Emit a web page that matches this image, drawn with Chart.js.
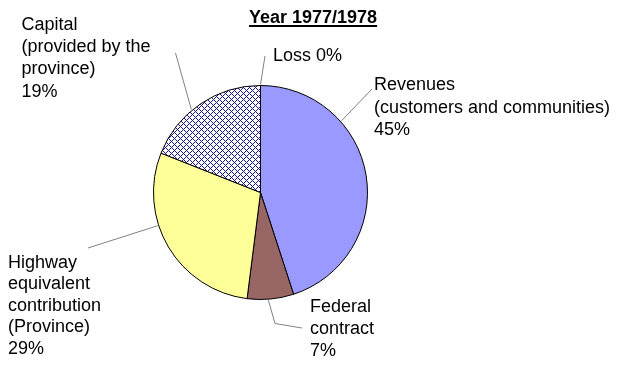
<!DOCTYPE html>
<html lang="en">
<head>
  <meta charset="UTF-8">
  <title>Year 1977/1978</title>
  <style>
    html, body { margin: 0; padding: 0; background: #fff; }
    canvas { display: block; }
  </style>
</head>
<body>
  <canvas id="pieChart" width="625" height="371"></canvas>

  <script src="https://cdn.jsdelivr.net/npm/chart.js"></script>
  <script>
    // data, clockwise from 12 o'clock
    const title = 'Year 1977/1978';
    const categories = ['Revenues', 'Federal contract', 'Highway equivalent contribution', 'Capital', 'Loss'];
    const shares = [45, 7, 29, 19, 0];

    // label text lines (the last line gets the percentage, unless inline)
    const labelText = [
      ['Revenues', '(customers and communities)'],
      ['Federal', 'contract'],
      ['Highway', 'equivalent', 'contribution', '(Province)'],
      ['Capital', '(provided by the', 'province)'],
      ['Loss']
    ];

    // where labels sit and where their leader lines go (angle = degrees clockwise from top)
    const labelLayout = [
      { x: 374, y: 90, lh: 22.5, inline: false, angle: 48.5, pts: [[372, 89]] },
      { x: 310, y: 312, lh: 22, inline: false, angle: 175.8, pts: [[275, 323.5], [302, 328]] },
      { x: 8, y: 267.5, lh: 21.5, inline: false, angle: 252.1, pts: [[88, 248]] },
      { x: 21.5, y: 29.5, lh: 22.4, inline: false, angle: 320.2, pts: [[175.5, 53]] },
      { x: 273, y: 61, lh: 22, inline: true, angle: 0, pts: [[265, 56]] }
    ];

    const colors = ['#9999ff', '#996666', '#ffff99', null, '#ffffff'];

    // cross hatch for the capital slice
    function makeHatch() {
      const tile = document.createElement('canvas');
      tile.width = 6; tile.height = 6;
      const t = tile.getContext('2d');
      t.fillStyle = '#ffffff';
      t.fillRect(0, 0, 6, 6);
      t.fillStyle = '#14148c';
      for (let x = 0; x < 6; x++) {
        for (let y = 0; y < 6; y++) {
          if ((x + y) % 6 === 0 || (x - y + 6) % 6 === 0) t.fillRect(x, y, 1, 1);
        }
      }
      return t.createPattern(tile, 'repeat');
    }
    colors[3] = makeHatch();

    const labelPlugin = {
      id: 'pieLabels',
      afterDraw(chart) {
        const ctx = chart.ctx;
        const meta = chart.getDatasetMeta(0);
        const arc = meta.data[0];
        const cx = arc.x, cy = arc.y, r = arc.outerRadius;

        ctx.save();
        // title, bold and underlined
        ctx.font = 'bold 18px "Liberation Sans", Arial, sans-serif';
        ctx.fillStyle = '#000';
        ctx.textBaseline = 'alphabetic';
        ctx.fillText(title, 249, 22.5);
        const tw = ctx.measureText(title).width;
        ctx.fillRect(249, 25, tw, 2);

        // leader lines
        ctx.strokeStyle = '#808080';
        ctx.lineWidth = 1;
        labelLayout.forEach((l) => {
          const a = l.angle * Math.PI / 180;
          ctx.beginPath();
          ctx.moveTo(cx + (r + 1) * Math.sin(a), cy - (r + 1) * Math.cos(a));
          l.pts.forEach(p => ctx.lineTo(p[0], p[1]));
          ctx.stroke();
        });

        // label text
        ctx.font = '18px "Liberation Sans", Arial, sans-serif';
        ctx.fillStyle = '#000';
        labelLayout.forEach((l, i) => {
          const lines = labelText[i].slice();
          const pct = shares[i] + '%';
          if (l.inline) lines[lines.length - 1] += ' ' + pct;
          else lines.push(pct);
          lines.forEach((s, k) => ctx.fillText(s, l.x, l.y + k * l.lh));
        });
        ctx.restore();
      }
    };

    const ctx = document.getElementById('pieChart').getContext('2d');
    new Chart(ctx, {
      type: 'pie',
      data: {
        labels: categories,
        datasets: [{
          data: shares,
          backgroundColor: colors,
          borderColor: '#000000',
          borderWidth: 1
        }]
      },
      options: {
        responsive: false,
        animation: false,
        layout: { padding: { left: 153, right: 257, top: 85, bottom: 71 } },
        plugins: {
          legend: { display: false },
          tooltip: { enabled: false }
        }
      },
      plugins: [labelPlugin]
    });
  </script>
</body>
</html>
